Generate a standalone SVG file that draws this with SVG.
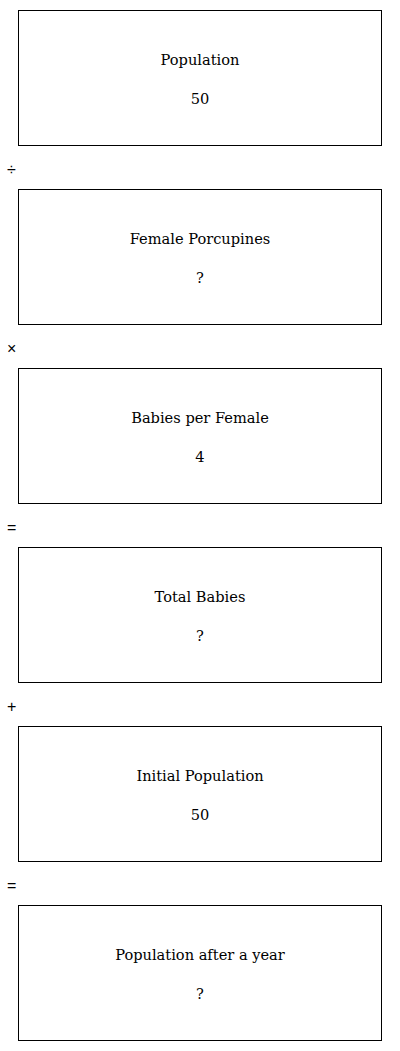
<svg xmlns="http://www.w3.org/2000/svg" width="400" height="1051" viewBox="0 0 400 1051">
<style>
.box{fill:#fff;stroke:#000;stroke-width:1}
.t{font-family:"DejaVu Serif",serif;font-size:14.6px;fill:#000;text-anchor:middle}
.op{font-family:"Liberation Sans",Arial,sans-serif;font-size:16px;fill:#000}
</style>
<rect width="400" height="1051" fill="#fff"/>
<g id="n1"><rect class="box" x="18.5" y="10.5" width="363" height="135"/><text class="t" x="200" y="65">Population</text><text class="t" x="200" y="104">50</text></g>
<g id="n2"><rect class="box" x="18.5" y="189.5" width="363" height="135"/><text class="t" x="200" y="244">Female Porcupines</text><text class="t" x="200" y="283">?</text></g>
<g id="n3"><rect class="box" x="18.5" y="368.5" width="363" height="135"/><text class="t" x="200" y="423">Babies per Female</text><text class="t" x="200" y="462">4</text></g>
<g id="n4"><rect class="box" x="18.5" y="547.5" width="363" height="135"/><text class="t" x="200" y="602">Total Babies</text><text class="t" x="200" y="641">?</text></g>
<g id="n5"><rect class="box" x="18.5" y="726.5" width="363" height="135"/><text class="t" x="200" y="781">Initial Population</text><text class="t" x="200" y="820">50</text></g>
<g id="n6"><rect class="box" x="18.5" y="905.5" width="363" height="135"/><text class="t" x="200" y="960">Population after a year</text><text class="t" x="200" y="999">?</text></g>
<g id="connectors">
<text class="op" x="7" y="174.5">÷</text>
<text class="op" x="7" y="353.5">×</text>
<text class="op" x="7" y="532.5">=</text>
<text class="op" x="7" y="711.5">+</text>
<text class="op" x="7" y="890.5">=</text>
</g>
</svg>
